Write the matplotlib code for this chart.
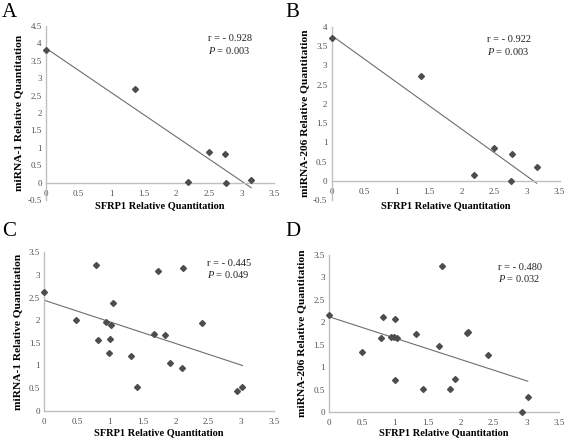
import numpy as np
import matplotlib
matplotlib.use("Agg")
import matplotlib.pyplot as plt
from matplotlib.ticker import FuncFormatter

plt.rcParams['font.family'] = ['Liberation Serif', 'DejaVu Serif']
plt.rcParams['mathtext.fontset'] = 'custom'
plt.rcParams['mathtext.rm'] = 'Liberation Serif'
plt.rcParams['mathtext.it'] = 'Liberation Serif:italic'

# ---------------- data ----------------
xA = [0.0, 1.37, 2.18, 2.50, 2.75, 2.77, 3.15]
yA = [3.80, 2.70, 0.03, 0.88, 0.82, 0.00, 0.07]

xB = [0.0, 1.37, 2.18, 2.50, 2.77, 2.75, 3.15]
yB = [3.72, 2.73, 0.15, 0.85, 0.70, 0.00, 0.37]

xC = [0.0, 0.49, 0.79, 0.82, 0.94, 1.01, 1.00, 0.99, 1.04, 1.32,
      1.42, 1.67, 1.73, 1.84, 1.91, 2.10, 2.12, 2.40, 2.94, 3.02]
yC = [2.63, 2.00, 3.22, 1.56, 1.95, 1.89, 1.58, 1.27, 2.37, 1.21,
      0.53, 1.69, 3.08, 1.67, 1.06, 0.94, 3.16, 1.93, 0.43, 0.53]

xD = [0.0, 0.50, 0.79, 0.82, 0.94, 0.99, 1.01, 1.03, 1.01, 1.32,
      1.43, 1.67, 1.72, 1.84, 1.91, 2.10, 2.12, 2.41, 2.93, 3.02]
yD = [2.17, 1.34, 1.65, 2.12, 1.67, 1.68, 2.07, 1.65, 0.72, 1.73,
      0.52, 1.47, 3.24, 0.52, 0.73, 1.77, 1.79, 1.27, 0.00, 0.33]

panel_letters = ['A', 'B', 'C', 'D']
y_labels = ['miRNA-1 Relative Quantitation', 'miRNA-206 Relative Quantitation',
            'miRNA-1 Relative Quantitation', 'miRNA-206 Relative Quantitation']
x_label = 'SFRP1 Relative Quantitation'
r_values = ['- 0.928', '- 0.922', '- 0.445', '- 0.480']
p_values = ['0.003', '0.003', '0.049', '0.032']
y_ranges = [(-0.5, 4.5), (-0.5, 4.0), (0.0, 3.5), (0.0, 3.5)]
x_ticks = [0, 0.5, 1, 1.5, 2, 2.5, 3, 3.5]

datasets = [(xA, yA), (xB, yB), (xC, yC), (xD, yD)]

W, H = 567, 440
fig = plt.figure(figsize=(W / 100, H / 100), dpi=100)

# axes boxes in pixels: left, right, top, bottom
boxes = [(46, 274, 26, 200), (331.5, 559.5, 26.7, 200.3),
         (44.3, 274, 252.3, 410.7), (329, 559.3, 254.7, 412.3)]
letter_pos = [(2, 3), (285, 3), (2, 222), (285, 222)]
ann_pos = [(208, 38), (487, 39), (207, 263), (498, 267)]

axis_col = '#c0c0c0'
tick_col = '#505050'

for i, ((x, y), (l, r, t, b)) in enumerate(zip(datasets, boxes)):
    ax = fig.add_axes([l / W, 1 - b / H, (r - l) / W, (b - t) / H])
    ax.set_xlim(0, 3.5)
    ax.set_ylim(*y_ranges[i])
    ax.set_xticks(x_ticks)
    lo, hi = y_ranges[i]
    ax.set_yticks(np.arange(lo, hi + 0.01, 0.5))
    fmt = FuncFormatter(lambda v, p: ('%g' % v))
    ax.xaxis.set_major_formatter(fmt)
    ax.yaxis.set_major_formatter(fmt)
    for s in ['top', 'right']:
        ax.spines[s].set_visible(False)
    ax.spines['bottom'].set_position(('data', 0))
    for s in ['left', 'bottom']:
        ax.spines[s].set_color(axis_col)
        ax.spines[s].set_linewidth(1.0)
    ax.tick_params(length=0, labelsize=6.5, labelcolor=tick_col)
    ax.tick_params(axis='x', pad=5)
    ax.tick_params(axis='y', pad=3)
    ax.patch.set_alpha(0)

    # trend line (least squares), over data range
    k, c = np.polyfit(x, y, 1)
    xs = np.array([min(x), max(x)])
    ax.plot(xs, k * xs + c, color='#6e6e6e', lw=0.8, zorder=2)
    ax.plot(x, y, 'D', ms=3.0, color='#4d4d4d', mec='#4d4d4d', zorder=3,
            clip_on=False)

    ax.set_ylabel(y_labels[i], fontsize=8.2, fontweight='bold')
    ax.yaxis.set_label_coords(-27 / (r - l), 0.5)
    ax.yaxis.label.set_va('center')

    # x label
    xl_y = 206 if i < 2 else 432.5
    fig.text((l + r) / 2 / W, 1 - xl_y / H, x_label, fontsize=7.5,
             fontweight='bold', ha='center', va='center')

    # annotation
    ax_, ay_ = ann_pos[i]
    fig.text(ax_ / W, 1 - ay_ / H, 'r = ' + r_values[i], fontsize=7.5,
             ha='left', va='center', color='#222222')
    fig.text(ax_ / W, 1 - (ay_ + 12) / H, '$P$ = ' + p_values[i], fontsize=7.5,
             ha='left', va='center', color='#222222')

    lx, ly = letter_pos[i]
    fig.text(lx / W, 1 - ly / H, panel_letters[i], fontsize=15,
             ha='left', va='top')

fig.savefig('out.png', dpi=100)
